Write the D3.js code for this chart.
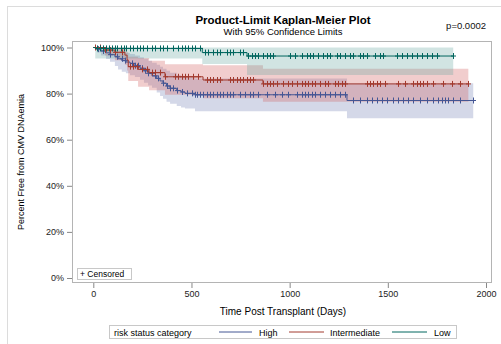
<!DOCTYPE html>
<html><head><meta charset="utf-8">
<script src="https://cdn.jsdelivr.net/npm/d3@7"></script>
<style>
body{margin:0;background:#fff;}
svg{display:block;font-family:"Liberation Sans",Arial,sans-serif;}
</style></head>
<body><svg id="c" width="501" height="344"></svg>
<script>
// ---- data ----
const groups = ["High", "Intermediate", "Low"];
const xTicks = [0, 500, 1000, 1500, 2000];
const yTicks = [0, 20, 40, 60, 80, 100];

// High risk
const highTime  = [0, 19, 39, 65, 85, 110, 126, 145, 166, 187, 212, 238, 258, 279, 299, 323, 340, 355, 373, 391, 425, 447, 467, 518, 1292];
const highSurv  = [100, 99.3, 98.5, 97.7, 96.9, 96.0, 95.1, 94.3, 93.7, 93.1, 92.1, 91.0, 89.9, 88.8, 87.7, 86.6, 85.5, 84.5, 83.3, 82.3, 81.3, 80.7, 80.1, 79.5, 77.0];
const highLower = [100, 97.8, 96.5, 95.0, 93.8, 92.0, 90.5, 89.5, 88.8, 88.0, 87.2, 86.0, 84.7, 83.5, 82.5, 80.5, 79.0, 77.8, 76.5, 75.6, 74.6, 74.0, 73.5, 72.3, 69.3];
const highUpper = [100, 100, 100, 99.8, 99.5, 99.0, 98.5, 98.0, 97.6, 97.2, 96.5, 95.8, 95.0, 94.2, 93.4, 92.5, 91.6, 90.8, 89.9, 89.0, 88.0, 87.5, 87.0, 86.5, 84.5];
const highEnd = 1935;
const highCens = [26,51,85,119,144,161,195,212,229,246,263,280,297,314,331,357,374,391,408,425,450,476,501,518,526,543,560,577,594,611,628,645,662,679,696,713,747,773,798,815,840,883,925,959,993,1036,1061,1078,1095,1112,1129,1154,1180,1205,1231,1256,1282,1324,1358,1392,1418,1443,1468,1494,1528,1553,1579,1604,1630,1664,1698,1732,1757,1774,1791,1808,1833,1867,1935];

// Intermediate risk
const intTime  = [0, 60, 110, 161, 172, 178, 228, 284, 365, 559, 864];
const intSurv  = [100, 98.9, 97.9, 96.7, 94.6, 91.7, 90.5, 89.1, 87.3, 85.9, 84.2];
const intLower = [100, 96.5, 94.5, 92.5, 90.0, 85.5, 83.0, 81.5, 79.5, 78.0, 76.5];
const intUpper = [100, 100, 99.9, 99.5, 98.0, 96.0, 95.4, 94.3, 92.7, 92.3, 90.8];
const intEnd = 1910;
const intCens = [9,34,60,85,111,144,187,204,221,246,272,297,314,340,365,416,433,450,467,484,509,535,577,594,611,628,645,696,713,730,747,764,781,798,815,866,883,900,917,934,968,993,1010,1036,1061,1078,1095,1112,1129,1154,1180,1197,1231,1248,1265,1282,1392,1409,1426,1443,1460,1485,1553,1587,1630,1647,1664,1681,1698,1732,1782,1825,1867,1910];

// Low risk
const lowTime  = [0, 10, 555, 783];
const lowSurv  = [100, 99.6, 97.8, 96.3];
const lowLower = [100, 95.2, 92.8, 88.1];
const lowUpper = [100, 100, 100, 100];
const lowEnd = 1833;
const lowCens = [17,34,48,65,82,94,110,122,139,156,167,187,204,221,238,255,272,297,314,340,357,374,407,433,450,467,484,501,518,543,569,586,611,628,645,679,696,713,747,764,789,806,823,840,866,883,900,917,1002,1027,1061,1086,1103,1120,1146,1171,1188,1205,1239,1256,1282,1307,1324,1358,1375,1392,1434,1460,1477,1545,1570,1596,1621,1647,1672,1698,1723,1749,1833];

// ---- styles ----
const lineColor = {High:"#445694", Intermediate:"#A23A2E", Low:"#01665E"};
const fillColor = {High:"#6F7EB3", Intermediate:"#D05B5B", Low:"#66A5A0"};

const series = [
  {name:"High", t:highTime, s:highSurv, lo:highLower, up:highUpper, end:highEnd, cens:highCens},
  {name:"Intermediate", t:intTime, s:intSurv, lo:intLower, up:intUpper, end:intEnd, cens:intCens},
  {name:"Low", t:lowTime, s:lowSurv, lo:lowLower, up:lowUpper, end:lowEnd, cens:lowCens}
];

const svg = d3.select("#c");
const P = {l:72, t:41, r:492, b:283};
const x = d3.scaleLinear().domain([0,2000]).range([93.3,486]);
const y = d3.scaleLinear().domain([0,100]).range([278,47.5]);

// outer frame
svg.append("rect").attr("x",7.5).attr("y",6.5).attr("width",520).attr("height",360)
  .attr("fill","none").attr("stroke","#dcdcdc");

// titles
svg.append("text").attr("x",283).attr("y",24).attr("text-anchor","middle")
  .attr("font-size",11.5).attr("font-weight","bold").attr("fill","#000").text("Product-Limit Kaplan-Meier Plot");
svg.append("text").attr("x",283).attr("y",35).attr("text-anchor","middle")
  .attr("font-size",9.5).attr("fill","#000").text("With 95% Confidence Limits");
svg.append("text").attr("x",486).attr("y",29).attr("text-anchor","end")
  .attr("font-size",9.5).attr("fill","#111").text("p=0.0002");

const g = svg.append("g");
const clip = svg.append("clipPath").attr("id","pc").append("rect")
  .attr("x",P.l).attr("y",P.t).attr("width",P.r-P.l).attr("height",P.b-P.t);
const plot = g.append("g").attr("clip-path","url(#pc)");

function pts(d, key){
  const a = d.t.map((t,i)=>({t:t, v:d[key][i]}));
  a.push({t:d.end, v:d[key][d[key].length-1]});
  return a;
}
function survAt(d, t){
  let v = d.s[0];
  for(let i=0;i<d.t.length;i++){ if(d.t[i]<=t) v=d.s[i]; }
  return v;
}

// bands
series.forEach(d=>{
  const lo = pts(d,"lo"), up = pts(d,"up");
  const arr = lo.map((p,i)=>({t:p.t, lo:p.v, up:up[i].v}));
  const area = d3.area().curve(d3.curveStepAfter)
    .x(p=>x(p.t)).y0(p=>y(p.lo)).y1(p=>y(p.up));
  plot.append("path").attr("d",area(arr)).attr("fill",fillColor[d.name]).attr("fill-opacity",0.3);
});

// lines and censor marks
series.forEach(d=>{
  const line = d3.line().curve(d3.curveStepAfter).x(p=>x(p.t)).y(p=>y(p.v));
  plot.append("path").attr("d",line(pts(d,"s"))).attr("fill","none")
    .attr("stroke",lineColor[d.name]).attr("stroke-width",1);
  const cg = plot.append("g").attr("stroke",lineColor[d.name]).attr("stroke-width",1);
  d.cens.forEach(t=>{
    const cx = Math.round(x(t))+0.5, cy = y(survAt(d,t));
    cg.append("line").attr("x1",cx).attr("x2",cx).attr("y1",cy-3).attr("y2",cy+3);
    cg.append("line").attr("x1",cx-2.5).attr("x2",cx+2.5).attr("y1",cy).attr("y2",cy);
  });
});

// plot frame
g.append("rect").attr("x",P.l+0.5).attr("y",P.t+0.5).attr("width",P.r-P.l-1).attr("height",P.b-P.t-1)
  .attr("fill","none").attr("stroke","#b4b4b4");

// axes
const yAxis = d3.axisLeft(y).tickValues(yTicks).tickFormat(d=>d+"%").tickSize(5).tickPadding(3);
const ya = svg.append("g").attr("transform",`translate(${P.l},0)`).call(yAxis);
const xAxis = d3.axisBottom(x).tickValues(xTicks).tickFormat(d3.format("d")).tickSize(5).tickPadding(3);
const xa = svg.append("g").attr("transform",`translate(0,${P.b})`).call(xAxis);
[ya,xa].forEach(a=>{
  a.select(".domain").remove();
  a.selectAll(".tick line").attr("stroke","#888");
  a.selectAll(".tick text").attr("font-size",9).attr("fill","#222").attr("font-family","'Liberation Sans',Arial,sans-serif");
});

svg.append("text").attr("x",283).attr("y",315).attr("text-anchor","middle")
  .attr("font-size",10).attr("fill","#000").text("Time Post Transplant (Days)");
svg.append("text").attr("transform",`translate(24,${(P.t+P.b)/2}) rotate(-90)`)
  .attr("text-anchor","middle").attr("font-size",9).attr("fill","#000").text("Percent Free from CMV DNAemia");

// censored inset
svg.append("rect").attr("x",77.5).attr("y",268.5).attr("width",54).attr("height",11)
  .attr("fill","#fff").attr("stroke","#c8c8c8");
svg.append("text").attr("x",80).attr("y",277).attr("font-size",8.5).attr("fill","#000").text("+ Censored");

// legend
const lg = svg.append("g");
lg.append("rect").attr("x",109.5).attr("y",325.5).attr("width",347).attr("height",13)
  .attr("fill","#fff").attr("stroke","#c8c8c8");
lg.append("text").attr("x",114).attr("y",335.5).attr("font-size",9).attr("fill","#000").text("risk status category");
const legPos = [{x1:219,x2:252,tx:259},{x1:289,x2:324,tx:330},{x1:392,x2:427,tx:434}];
groups.forEach((name,i)=>{
  const p = legPos[i];
  lg.append("line").attr("x1",p.x1).attr("x2",p.x2).attr("y1",332).attr("y2",332)
    .attr("stroke",lineColor[name]).attr("stroke-width",1);
  lg.append("text").attr("x",p.tx).attr("y",335.5).attr("font-size",9).attr("fill","#000").text(name);
});
</script></body></html>
